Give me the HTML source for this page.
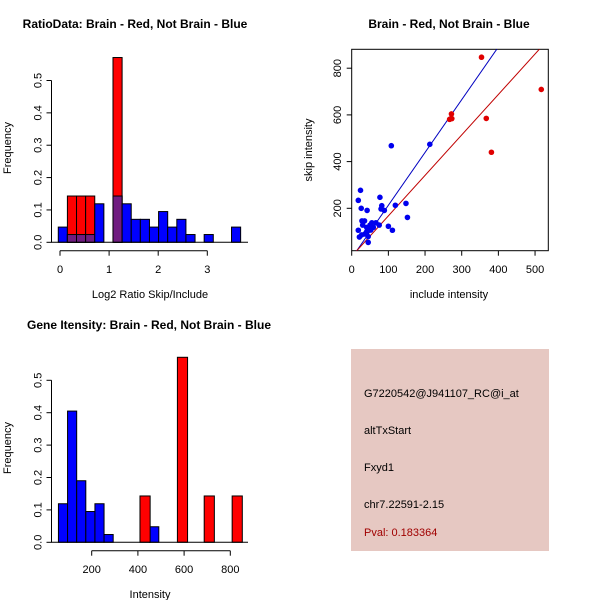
<!DOCTYPE html>
<html><head><meta charset="utf-8">
<style>
html,body{margin:0;padding:0;background:#fff;}
svg{display:block;font-family:"Liberation Sans",sans-serif;}
</style></head>
<body>
<svg id="c" width="600" height="600" viewBox="0 0 600 600">
<rect x="351" y="349" width="198" height="202" fill="#E6C8C2"/>
<text x="364" y="397" font-size="11">G7220542@J941107_RC@i_at</text>
<text x="364" y="434" font-size="11">altTxStart</text>
<text x="364" y="471" font-size="11">Fxyd1</text>
<text x="364" y="508" font-size="11">chr7.22591-2.15</text>
<text x="364" y="536" font-size="11" fill="#A00000">Pval: 0.183364</text>
</svg>
<script>
// ---- Panel 1: ratio histogram ----
const ratioBinStart = -0.035;
const ratioBinWidth = 0.1857;
const ratioBlue = [0.047,0.024,0.024,0.024,0.119,0,0.143,0.119,0.071,0.071,0.047,0.095,0.047,0.071,0.024,0,0.024,0,0,0.047];
const ratioRed  = [0,0.143,0.143,0.143,0,0,0.571,0,0,0,0,0,0,0,0,0,0,0,0,0];
const ratioXTicks = [0,1,2,3];
const freqTicks = ["0.0","0.1","0.2","0.3","0.4","0.5"];
// ---- Panel 2: scatter ----
const blueInc = [24,18,26,42,77,82,80,89,119,148,152,108,213,100,111,18,21,28,35,30,41,50,55,66,75,45,45,36,27,59,41,52];
const blueSkip= [277,234,200,191,247,211,197,191,213,221,161,468,474,123,106,106,77,146,146,128,118,128,138,138,128,54,79,90,86,118,100,107];
const redInc = [354,517,367,272,273,267,381];
const redSkip= [847,709,585,604,584,581,440];
const blueFit = [-12.8,2.26];
const redFit = [-5.6,1.733];
const scXTicks = [0,100,200,300,400,500];
const scYTicks = [200,400,600,800];
// ---- Panel 3: intensity histogram ----
const intBlueStart = 56, intBlueWidth = 39.5;
const intBlue = [0.119,0.405,0.190,0.095,0.119,0.024,0,0,0,0,0.048];
const intRedLeft = [409,571,687,808];
const intRedWidth = 44;
const intRed = [0.143,0.571,0.143,0.143];
const intXTicks = [200,400,600,800];

const svg = document.getElementById('c');
const NS = 'http://www.w3.org/2000/svg';
function mk(tag, attrs, parent){const e=document.createElementNS(NS,tag);for(const k in attrs)e.setAttribute(k,attrs[k]);(parent||svg).appendChild(e);return e;}
function txt(x,y,s,size,extra){const t=mk('text',Object.assign({x:x,y:y,'font-size':size},extra||{}));t.textContent=s;return t;}

// histogram y scale (shared geometry for panels 1 & 3)
function yH1(v){return 242.3 - v*323.6;}
function yH3(v){return 542.3 - v*324;}
function x1(v){return 60 + v*49.1;}
function x3(v){return 45.5 + v*0.231;}
function xs(v){return 351.7 + v*0.3667;}
function ys(v){return 255 - v*0.2335;}

// Titles
let t;
t=txt(135,28,'RatioData: Brain - Red, Not Brain - Blue',12,{'font-weight':'bold','text-anchor':'middle'});


t=txt(449,28,'Brain - Red, Not Brain - Blue',12,{'font-weight':'bold','text-anchor':'middle'});


t=txt(149,329,'Gene Itensity: Brain - Red, Not Brain - Blue',12,{'font-weight':'bold','text-anchor':'middle'});



// Panel 1 bars
ratioBlue.forEach((b,i)=>{
  const x0=x1(ratioBinStart+i*ratioBinWidth), x2=x1(ratioBinStart+(i+1)*ratioBinWidth);
  const r=ratioRed[i];
  if(b>0){const e=mk('rect',{x:x0,y:yH1(b),width:x2-x0,height:yH1(0)-yH1(b),fill:'#0000FF',stroke:'#000','stroke-width':1});
    
    }
  if(r>0){const e=mk('rect',{x:x0,y:yH1(r),width:x2-x0,height:yH1(0)-yH1(r),fill:'#FF0000',stroke:'#000','stroke-width':1});
    
    }
  const m=Math.min(b,r);
  if(m>0){const e=mk('rect',{x:x0,y:yH1(m),width:x2-x0,height:yH1(0)-yH1(m),fill:'#701C80',stroke:'#000','stroke-width':1});
    
    }
});
mk('line',{x1:51,y1:242.3,x2:248,y2:242.3,stroke:'#000'});
// axes panel 1
function yAxis(xa,yf,parentName){
  const g=mk('g',{});
  
  
  mk('line',{x1:xa,y1:yf(0),x2:xa,y2:yf(0.5),stroke:'#000'},g);
  freqTicks.forEach(s=>{const v=parseFloat(s);const y=yf(v);
    mk('line',{x1:xa-5,y1:y,x2:xa,y2:y,stroke:'#000'},g);
    const tt=mk('text',{x:0,y:0,'font-size':11,'text-anchor':'middle',transform:`translate(${xa-10},${y}) rotate(-90)`},g);tt.textContent=s;});
}
yAxis(51.5,yH1,'ratio-y-axis');
(function(){const g=mk('g',{});
  
  
  mk('line',{x1:x1(ratioXTicks[0]),y1:250.7,x2:x1(ratioXTicks[ratioXTicks.length-1]),y2:250.7,stroke:'#000'},g);
  ratioXTicks.forEach(v=>{mk('line',{x1:x1(v),y1:250.7,x2:x1(v),y2:255.7,stroke:'#000'},g);
    const tt=mk('text',{x:x1(v),y:273,'font-size':11,'text-anchor':'middle'},g);tt.textContent=v;});
})();
t=txt(150,298,'Log2 Ratio Skip/Include',11,{'text-anchor':'middle'});


t=mk('text',{x:0,y:0,'font-size':11,'text-anchor':'middle',transform:'translate(11,148) rotate(-90)'});t.textContent='Frequency';



// Panel 2 scatter
mk('defs',{}).innerHTML='<clipPath id="sc"><rect x="351.7" y="49.3" width="196.6" height="201.4"/></clipPath>';
let fr=mk('rect',{x:351.7,y:49.3,width:196.6,height:201.4,fill:'none',stroke:'#000'});


const cg=mk('g',{'clip-path':'url(#sc)'});
[[blueFit,'#0000C0','blue-fit-line'],[redFit,'#C00000','red-fit-line']].forEach(([f,c,n])=>{
  const xa=0,xb=600;
  const l=mk('line',{x1:xs(xa),y1:ys(f[0]+f[1]*xa),x2:xs(xb),y2:ys(f[0]+f[1]*xb),stroke:c,'stroke-width':1},cg);
  
  
});
blueInc.forEach((v,i)=>{const p=mk('circle',{cx:xs(v),cy:ys(blueSkip[i]),r:2.8,fill:'#0000EE'});
  
  });
redInc.forEach((v,i)=>{const p=mk('circle',{cx:xs(v),cy:ys(redSkip[i]),r:2.8,fill:'#E00000'});
  
  });
(function(){const g=mk('g',{});
  
  
  scXTicks.forEach(v=>{mk('line',{x1:xs(v),y1:250.7,x2:xs(v),y2:255.7,stroke:'#000'},g);
    const tt=mk('text',{x:xs(v),y:273,'font-size':11,'text-anchor':'middle'},g);tt.textContent=v;});
  const g2=mk('g',{});
  
  
  scYTicks.forEach(v=>{mk('line',{x1:346.7,y1:ys(v),x2:351.7,y2:ys(v),stroke:'#000'},g2);
    const tt=mk('text',{x:0,y:0,'font-size':11,'text-anchor':'middle',transform:`translate(341,${ys(v)}) rotate(-90)`},g2);tt.textContent=v;});
})();
t=txt(449,298,'include intensity',11,{'text-anchor':'middle'});


t=mk('text',{x:0,y:0,'font-size':11,'text-anchor':'middle',transform:'translate(312,150) rotate(-90)'});t.textContent='skip intensity';



// Panel 3
intBlue.forEach((b,i)=>{if(b<=0)return;
  const x0=x3(intBlueStart+i*intBlueWidth),x2=x3(intBlueStart+(i+1)*intBlueWidth);
  const e=mk('rect',{x:x0,y:yH3(b),width:x2-x0,height:yH3(0)-yH3(b),fill:'#0000FF',stroke:'#000'});
  
  });
intRed.forEach((r,i)=>{const x0=x3(intRedLeft[i]),x2=x3(intRedLeft[i]+intRedWidth);
  const e=mk('rect',{x:x0,y:yH3(r),width:x2-x0,height:yH3(0)-yH3(r),fill:'#FF0000',stroke:'#000'});
  
  });
mk('line',{x1:51,y1:542.3,x2:248,y2:542.3,stroke:'#000'});
yAxis(51.5,yH3,'intensity-y-axis');
(function(){const g=mk('g',{});
  
  
  mk('line',{x1:x3(intXTicks[0]),y1:550.7,x2:x3(intXTicks[intXTicks.length-1]),y2:550.7,stroke:'#000'},g);
  intXTicks.forEach(v=>{mk('line',{x1:x3(v),y1:550.7,x2:x3(v),y2:555.7,stroke:'#000'},g);
    const tt=mk('text',{x:x3(v),y:573,'font-size':11,'text-anchor':'middle'},g);tt.textContent=v;});
})();
t=txt(150,598,'Intensity',11,{'text-anchor':'middle'});


t=mk('text',{x:0,y:0,'font-size':11,'text-anchor':'middle',transform:'translate(11,448) rotate(-90)'});t.textContent='Frequency';


</script>
</body></html>
